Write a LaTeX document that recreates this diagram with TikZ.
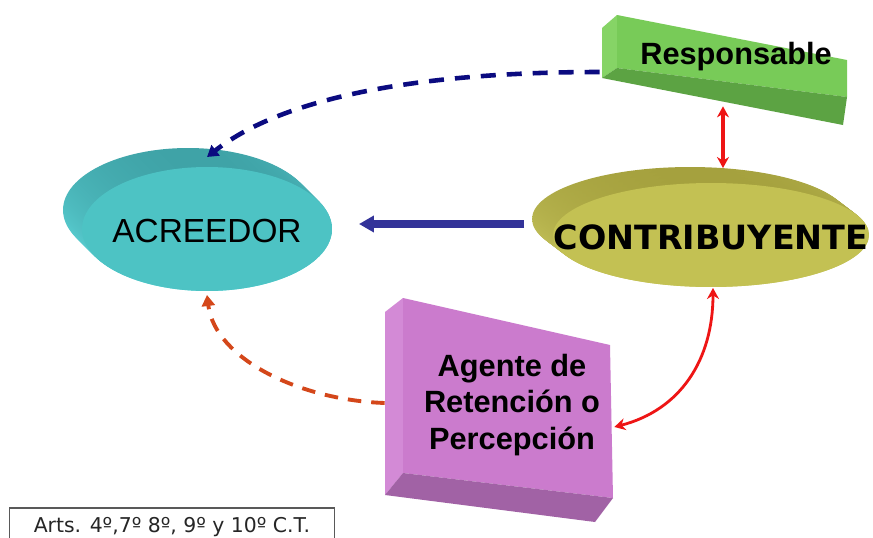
\documentclass[tikz,border=0pt]{standalone}
\usepackage{fontspec}
\setmainfont{Liberation Sans}
\newfontfamily\verdana{DejaVu Sans}
\usetikzlibrary{arrows.meta,shapes.geometric}
\definecolor{marino}{HTML}{0B0B80}
\definecolor{azul}{HTML}{333399}
\definecolor{rojo}{HTML}{EE1515}
\definecolor{naranja}{HTML}{D4471A}
\definecolor{acrfront}{HTML}{4DC3C4}
\definecolor{acrsideA}{HTML}{3FA3A7}
\definecolor{acrsideB}{HTML}{62DDE0}
\definecolor{confront}{HTML}{C3C153}
\definecolor{consideA}{HTML}{A5A13E}
\definecolor{consideB}{HTML}{CBC960}
\definecolor{verdeA}{HTML}{78CB58}
\definecolor{verdeB}{HTML}{86D466}
\definecolor{verdeC}{HTML}{5CA343}
\definecolor{lilaA}{HTML}{CB7BCD}
\definecolor{lilaB}{HTML}{D38AD6}
\definecolor{lilaC}{HTML}{A162A5}
\begin{document}
\begin{tikzpicture}[x=0.02cm,y=-0.02cm,
  disco/.style={ellipse,inner sep=0pt,outer sep=0pt},
  rotulo/.style={font=\bfseries\fontsize{17.5}{21}\selectfont,align=center,inner sep=0pt},
  trazo/.style={line width=2.6pt,dash pattern=on 0.3cm off 0.22cm}]
\clip (0,0) rectangle (873,538);
\fill[white] (0,0) rectangle (873,538);
\foreach \t in {0,...,19}
  \shade[top color=acrsideA,bottom color=acrsideB] (188+\t,210+\t) ellipse [x radius=2.5cm,y radius=1.24cm];
\node[disco,fill=acrfront,minimum width=5cm,minimum height=2.48cm] (acreedor) at (207,229) {};
\node[font=\fontsize{19}{22}\selectfont] (acreedor-txt) at (207,231) {ACREEDOR};
\foreach \t in {0,...,21}
  \shade[top color=consideA,bottom color=consideB] (690+\t,219+0.76*\t) ellipse [x radius=3.16cm,y radius=1.04cm];
\node[disco,fill=confront,minimum width=6.32cm,minimum height=2.08cm] (contribuyente) at (711,235) {};
\node[font=\verdana\bfseries\fontsize{19}{22}\selectfont] (contribuyente-txt) at (711,237) {CONTRIBUYENTE};
\fill[verdeB] (602,28) -- (617,15) -- (617,68) -- (602,78) -- cycle;
\fill[verdeA] (617,15) -- (847,60) -- (847,97) -- (617,68) -- cycle;
\fill[verdeC] (617,68) -- (847,97) -- (843,125) -- (602,78) -- cycle;
\node[rotulo,minimum width=4.6cm,minimum height=1.6cm] (responsable) at (736,57) {Responsable};
\fill[lilaB] (385,312) -- (403,298) -- (403,473) -- (385,495) -- cycle;
\fill[lilaA] (403,298) -- (610,345) -- (613,498) -- (403,473) -- cycle;
\fill[lilaC] (403,473) -- (613,498) -- (595,522) -- (385,495) -- cycle;
\node[rotulo,minimum width=4.2cm,minimum height=3.4cm] (agente) at (512,405) {Agente de\\Retención o\\Percepción};
\node[draw=gray!70!black,line width=0.6pt,minimum width=6.5cm,minimum height=0.76cm,font=\verdana\fontsize{11.6}{13}\selectfont,text=black!85] (nota) at (172,527) {Arts. 4º,7º 8º, 9º y 10º C.T.};
\draw[trazo,marino,-{Triangle[length=0.22cm,width=0.26cm]}] ([shift={(-21,15)}]responsable.west) .. controls +(-160,0) and +(83,-65) .. ([shift={(0,-10)}]acreedor.north);
\draw[azul,line width=4pt,-{Triangle[length=0.3cm,width=0.32cm]}] ([shift={(-29,-11)}]contribuyente.west) -- ([shift={(27,-5)}]acreedor.east);
\draw[rojo,line width=1.8pt,{Stealth[length=0.22cm,width=0.24cm]}-{Stealth[length=0.22cm,width=0.24cm]}] ([shift={(-13,9)}]responsable.south) -- ([shift={(12,-15)}]contribuyente.north);
\draw[rojo,line width=1.6pt,{Stealth[length=0.22cm,width=0.24cm]}-{Stealth[length=0.22cm,width=0.24cm]}] ([shift={(2,1)}]contribuyente.south) .. controls +(0,72) and +(66,-17) .. ([shift={(-3,22)}]agente.east);
\draw[trazo,naranja,line width=2.2pt,dash pattern=on 0.27cm off 0.2cm,-{Triangle[length=0.22cm,width=0.26cm]}] ([shift={(-22,-2)}]agente.west) .. controls +(-85,-3) and +(8,64) .. ([shift={(0,4)}]acreedor.south);
\end{tikzpicture}
\end{document}
